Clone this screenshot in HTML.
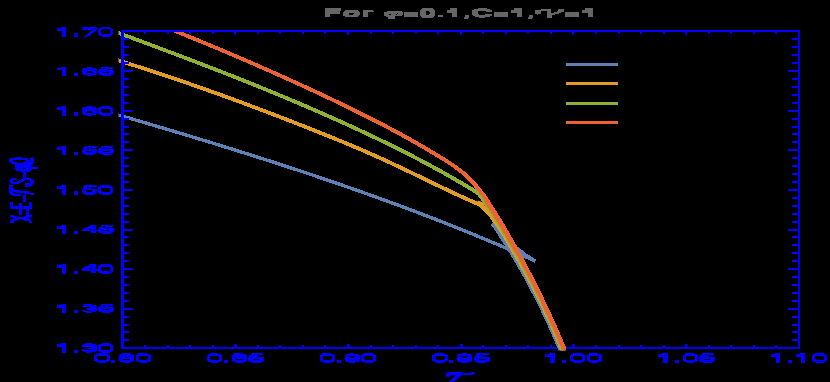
<!DOCTYPE html>
<html><head><meta charset="utf-8"><style>
html,body{margin:0;padding:0;background:#000;width:830px;height:382px;overflow:hidden}
svg{display:block}
text{font-family:"Liberation Sans",sans-serif}
</style></head><body>
<svg width="830" height="382" viewBox="0 0 830 382"><rect width="830" height="382" fill="#000"/><defs><clipPath id="c"><rect x="118.5" y="30" width="688" height="320.3"/></clipPath><clipPath id="cb"><rect x="540" y="346" width="40" height="4.3"/></clipPath></defs><defs><g id="cv"><g transform="scale(1,0.8)"><path d="M117.03,143.20 L119.17,143.98 L121.30,144.76 L123.44,145.54 L125.58,146.32 L127.72,147.11 L129.86,147.89 L132.00,148.67 L134.13,149.46 L136.27,150.24 L138.41,151.03 L140.55,151.82 L142.69,152.60 L144.82,153.39 L146.96,154.18 L149.10,154.97 L151.24,155.76 L153.37,156.55 L155.51,157.34 L157.65,158.14 L159.79,158.93 L161.92,159.72 L164.06,160.52 L166.20,161.31 L168.33,162.11 L170.47,162.91 L172.60,163.71 L174.74,164.51 L176.88,165.31 L179.01,166.11 L181.15,166.91 L183.28,167.72 L185.42,168.52 L187.55,169.33 L189.69,170.13 L191.82,170.94 L193.96,171.75 L196.09,172.56 L198.23,173.37 L200.36,174.18 L202.49,174.99 L204.63,175.80 L206.76,176.62 L208.89,177.43 L211.02,178.25 L213.16,179.07 L215.29,179.89 L217.42,180.71 L219.55,181.53 L221.68,182.35 L223.81,183.18 L225.95,184.00 L228.08,184.83 L230.21,185.66 L232.34,186.48 L234.47,187.31 L236.60,188.15 L238.72,188.98 L240.85,189.81 L242.98,190.65 L245.11,191.48 L247.24,192.32 L249.36,193.16 L251.49,194.00 L253.62,194.84 L255.75,195.69 L257.87,196.53 L260.00,197.38 L262.12,198.23 L264.25,199.07 L266.37,199.92 L268.50,200.78 L270.62,201.63 L272.74,202.48 L274.87,203.34 L276.99,204.20 L279.11,205.06 L281.23,205.92 L283.36,206.78 L285.48,207.65 L287.60,208.51 L289.72,209.38 L291.84,210.25 L293.96,211.12 L296.08,211.99 L298.19,212.86 L300.31,213.74 L302.43,214.62 L304.55,215.49 L306.66,216.37 L308.78,217.26 L310.90,218.14 L313.01,219.03 L315.13,219.91 L317.24,220.80 L319.35,221.69 L321.47,222.58 L323.58,223.48 L325.69,224.38 L327.80,225.27 L329.91,226.17 L332.03,227.07 L334.14,227.98 L336.25,228.88 L338.35,229.79 L340.46,230.70 L342.57,231.61 L344.68,232.52 L346.79,233.44 L348.89,234.35 L351.00,235.27 L353.10,236.19 L355.21,237.12 L357.31,238.04 L359.42,238.97 L361.52,239.90 L363.62,240.83 L365.72,241.76 L367.82,242.69 L369.92,243.63 L372.02,244.57 L374.12,245.51 L376.22,246.45 L378.32,247.40 L380.42,248.35 L382.51,249.30 L384.61,250.25 L386.70,251.20 L388.80,252.16 L390.89,253.12 L392.99,254.08 L395.08,255.04 L397.17,256.00 L399.26,256.97 L401.35,257.94 L403.44,258.91 L405.53,259.89 L407.62,260.86 L409.71,261.84 L411.80,262.82 L413.88,263.80 L415.97,264.79 L418.05,265.78 L420.14,266.77 L422.22,267.76 L424.30,268.76 L426.39,269.75 L428.47,270.75 L430.55,271.76 L432.63,272.76 L434.71,273.77 L436.79,274.78 L438.86,275.79 L440.94,276.80 L443.02,277.82 L445.09,278.84 L447.17,279.86 L449.24,280.89 L451.31,281.91 L453.38,282.94 L455.45,283.98 L457.52,285.01 L459.59,286.05 L461.66,287.09 L463.73,288.13 L465.80,289.18 L467.86,290.23 L469.93,291.28 L471.99,292.33 L474.06,293.39 L476.12,294.45 L478.18,295.51 L480.24,296.57 L482.30,297.64 L484.36,298.71 L486.42,299.78 L488.48,300.86 L490.53,301.94 L492.59,303.02 L494.64,304.10 L496.70,305.19 L498.75,306.28 L500.80,307.37 L502.85,308.47 L504.90,309.56 L506.95,310.67 L509.00,311.77 L511.05,312.88 L513.09,313.99 L515.14,315.10 L517.18,316.22 L519.23,317.33 L521.27,318.46 L523.31,319.58 L525.35,320.71 L527.39,321.84 L529.43,322.97 L531.47,324.11 L533.50,325.25 L535.54,326.39" fill="none" stroke="#5E81B5" stroke-width="4.1" stroke-linejoin="round" stroke-miterlimit="10" shape-rendering="crispEdges"/><path d="M492.97,279.00 L493.60,280.25 L494.23,281.50 L494.86,282.75 L495.48,284.00 L496.10,285.25 L496.71,286.50 L497.33,287.75 L497.94,289.00 L498.56,290.25 L499.17,291.50 L499.78,292.75 L500.40,294.00 L501.04,295.25 L501.69,296.50 L502.33,297.75 L502.97,299.00 L503.61,300.25 L504.24,301.50 L504.88,302.75 L505.52,304.00 L506.15,305.25 L506.78,306.50 L507.41,307.75 L508.05,309.00 L508.67,310.25 L509.30,311.50 L509.93,312.75 L510.55,314.00 L511.18,315.25 L511.80,316.50 L512.42,317.75 L513.04,319.00 L513.63,320.25 L514.22,321.50 L514.81,322.75 L515.39,324.00 L515.98,325.25 L516.56,326.50 L517.14,327.75 L517.73,329.00 L518.31,330.25 L518.88,331.50 L519.46,332.75 L520.04,334.00 L520.61,335.25 L521.18,336.50 L521.75,337.75 L522.32,339.00 L522.89,340.25 L523.46,341.50 L524.02,342.75 L524.59,344.00 L525.15,345.25 L525.71,346.50 L526.27,347.75 L526.83,349.00 L527.38,350.25 L527.91,351.50 L528.44,352.75 L528.97,354.00 L529.50,355.25 L530.02,356.50 L530.55,357.75 L531.07,359.00 L531.59,360.25 L532.11,361.50 L532.63,362.75 L533.14,364.00 L533.66,365.25 L534.17,366.50 L534.69,367.75 L535.20,369.00 L535.71,370.25 L536.22,371.50 L536.72,372.75 L537.23,374.00 L537.73,375.25 L538.24,376.50 L538.74,377.75 L539.24,379.00 L539.74,380.25 L540.23,381.50 L540.73,382.75 L541.22,384.00 L541.72,385.25 L542.21,386.50 L542.69,387.75 L543.17,389.00 L543.64,390.25 L544.12,391.50 L544.59,392.75 L545.06,394.00 L545.52,395.25 L545.99,396.50 L546.45,397.75 L546.92,399.00 L547.38,400.25 L547.84,401.50 L548.30,402.75 L548.76,404.00 L549.22,405.25 L549.67,406.50 L550.13,407.75 L550.58,409.00 L551.03,410.25 L551.48,411.50 L551.93,412.75 L552.38,414.00 L552.82,415.25 L553.27,416.50 L553.71,417.75 L554.15,419.00 L554.59,420.25 L555.03,421.50 L555.47,422.75 L555.90,424.00 L556.34,425.25 L556.77,426.50 L557.20,427.75 L557.63,429.00 L558.06,430.25 L558.49,431.50 L558.92,432.75 L559.34,434.00 L559.77,435.25 L560.19,436.50 L560.53,437.75 L560.54,439.00" fill="none" stroke="#5E81B5" stroke-width="4.3" stroke-linejoin="round" stroke-miterlimit="10" shape-rendering="crispEdges"/><path d="M492.50,280.62 L505.00,295.62 L517.00,310.38 L525.00,318.00 L534.80,325.75" fill="none" stroke="#5E81B5" stroke-width="3.6" stroke-linejoin="round" stroke-miterlimit="10" shape-rendering="crispEdges"/><path d="M116.00,74.46 L117.83,75.19 L119.66,75.93 L121.49,76.66 L123.33,77.40 L125.16,78.14 L126.99,78.87 L128.82,79.61 L130.65,80.35 L132.48,81.09 L134.32,81.83 L136.15,82.57 L137.98,83.31 L139.81,84.05 L141.64,84.80 L143.47,85.54 L145.31,86.29 L147.14,87.03 L148.97,87.78 L150.80,88.53 L152.63,89.28 L154.46,90.04 L156.30,90.79 L158.13,91.55 L159.96,92.30 L161.79,93.06 L163.62,93.82 L165.45,94.59 L167.29,95.35 L169.12,96.12 L170.95,96.89 L172.78,97.66 L174.61,98.43 L176.44,99.21 L178.28,99.99 L180.11,100.77 L181.94,101.55 L183.77,102.34 L185.60,103.12 L187.43,103.91 L189.27,104.70 L191.10,105.49 L192.93,106.29 L194.76,107.08 L196.59,107.88 L198.42,108.68 L200.26,109.49 L202.09,110.29 L203.92,111.10 L205.75,111.91 L207.58,112.72 L209.41,113.53 L211.25,114.34 L213.08,115.16 L214.91,115.98 L216.74,116.80 L218.57,117.62 L220.40,118.45 L222.24,119.27 L224.07,120.10 L225.90,120.93 L227.73,121.76 L229.56,122.60 L231.39,123.43 L233.23,124.27 L235.06,125.11 L236.89,125.95 L238.72,126.79 L240.55,127.64 L242.38,128.48 L244.22,129.33 L246.05,130.18 L247.88,131.03 L249.71,131.89 L251.54,132.74 L253.37,133.60 L255.21,134.46 L257.04,135.32 L258.87,136.18 L260.70,137.05 L262.53,137.91 L264.36,138.78 L266.20,139.65 L268.03,140.52 L269.86,141.39 L271.69,142.27 L273.52,143.14 L275.35,144.02 L277.19,144.90 L279.02,145.78 L280.85,146.66 L282.68,147.55 L284.51,148.43 L286.34,149.32 L288.18,150.21 L290.01,151.10 L291.84,151.99 L293.67,152.88 L295.50,153.78 L297.33,154.68 L299.17,155.57 L301.00,156.47 L302.83,157.37 L304.66,158.28 L306.49,159.18 L308.32,160.09 L310.16,160.99 L311.99,161.90 L313.82,162.81 L315.65,163.72 L317.48,164.64 L319.31,165.55 L321.15,166.47 L322.98,167.38 L324.81,168.30 L326.64,169.22 L328.47,170.15 L330.30,171.07 L332.14,172.00 L333.97,172.93 L335.80,173.86 L337.63,174.80 L339.46,175.73 L341.29,176.67 L343.13,177.62 L344.96,178.57 L346.79,179.52 L348.62,180.47 L350.45,181.43 L352.28,182.39 L354.12,183.36 L355.95,184.33 L357.78,185.30 L359.61,186.28 L361.44,187.26 L363.27,188.25 L365.11,189.24 L366.94,190.24 L368.77,191.25 L370.60,192.26 L372.43,193.27 L374.26,194.29 L376.10,195.32 L377.93,196.35 L379.76,197.38 L381.59,198.42 L383.42,199.47 L385.25,200.51 L387.09,201.57 L388.92,202.63 L390.75,203.69 L392.58,204.76 L394.41,205.83 L396.24,206.90 L398.08,207.98 L399.91,209.06 L401.74,210.15 L403.57,211.24 L405.40,212.33 L407.23,213.43 L409.07,214.52 L410.90,215.62 L412.73,216.73 L414.56,217.83 L416.39,218.93 L418.22,220.04 L420.06,221.15 L421.89,222.25 L423.72,223.36 L425.55,224.47 L427.38,225.58 L429.21,226.68 L431.05,227.79 L432.88,228.89 L434.71,230.00 L436.54,231.10 L438.37,232.20 L440.20,233.29 L442.04,234.39 L443.87,235.48 L445.70,236.57 L447.53,237.65 L449.36,238.73 L451.19,239.81 L453.03,240.88 L454.86,241.95 L456.69,243.01 L458.52,244.07 L460.35,245.12 L462.18,246.17 L464.02,247.21 L465.85,248.25 L467.68,249.28 L469.51,250.30 L471.34,251.31 L473.17,252.32 L475.01,253.32 L476.84,254.31 L478.67,255.29 L480.50,256.27 L481.27,257.27 L482.25,258.52 L483.25,259.77 L484.25,261.02 L485.25,262.27 L486.25,263.52 L487.26,264.77 L488.26,266.02 L489.27,267.27 L490.19,268.52 L490.95,269.77 L491.71,271.02 L492.46,272.27 L493.20,273.52 L493.94,274.77 L494.66,276.02 L495.38,277.27 L496.10,278.52 L496.81,279.77 L497.49,281.02 L498.17,282.27 L498.85,283.52 L499.52,284.77 L500.20,286.02 L500.87,287.27 L501.53,288.52 L502.20,289.77 L502.87,291.02 L503.51,292.27 L504.10,293.52 L504.70,294.77 L505.29,296.02 L505.88,297.27 L506.47,298.52 L507.06,299.77 L507.65,301.02 L508.24,302.27 L508.83,303.52 L509.41,304.77 L510.00,306.02 L510.58,307.27 L511.16,308.52 L511.74,309.77 L512.32,311.02 L512.90,312.27 L513.48,313.52 L514.05,314.77 L514.62,316.02 L515.20,317.27 L515.77,318.52 L516.34,319.77 L516.91,321.02 L517.47,322.27 L518.04,323.52 L518.60,324.77 L519.16,326.02 L519.72,327.27 L520.28,328.52 L520.84,329.77 L521.40,331.02 L521.95,332.27 L522.51,333.52 L523.06,334.77 L523.61,336.02 L524.16,337.27 L524.71,338.52 L525.25,339.77 L525.80,341.02 L526.34,342.27 L526.89,343.52 L527.43,344.77 L527.97,346.02 L528.51,347.27 L529.04,348.52 L529.58,349.77 L530.10,351.02 L530.62,352.27 L531.14,353.52 L531.66,354.77 L532.18,356.02 L532.70,357.27 L533.21,358.52 L533.72,359.77 L534.24,361.02 L534.75,362.27 L535.26,363.52 L535.76,364.77 L536.27,366.02 L536.77,367.27 L537.28,368.52 L537.78,369.77 L538.28,371.02 L538.78,372.27 L539.28,373.52 L539.77,374.77 L540.27,376.02 L540.76,377.27 L541.25,378.52 L541.74,379.77 L542.23,381.02 L542.72,382.27 L543.21,383.52 L543.69,384.77 L544.18,386.02 L544.66,387.27 L545.14,388.52 L545.62,389.77 L546.10,391.02 L546.58,392.27 L547.05,393.52 L547.52,394.77 L548.00,396.02 L548.47,397.27 L548.94,398.52 L549.41,399.77 L549.86,401.02 L550.31,402.27 L550.75,403.52 L551.20,404.77 L551.64,406.02 L552.08,407.27 L552.52,408.52 L552.96,409.77 L553.40,411.02 L553.84,412.27 L554.27,413.52 L554.71,414.77 L555.14,416.02 L555.57,417.27 L556.00,418.52 L556.43,419.77 L556.85,421.02 L557.28,422.27 L557.70,423.52 L558.13,424.77 L558.55,426.02 L558.97,427.27 L559.38,428.52 L559.80,429.77 L560.22,431.02 L560.63,432.27 L561.05,433.52 L561.46,434.77 L561.87,436.02 L562.28,437.27 L562.35,438.52 L562.35,439.77" fill="none" stroke="#E19C24" stroke-width="4.6" stroke-linejoin="miter" stroke-miterlimit="10" shape-rendering="crispEdges"/></g><polygon fill="#E19C24" points="477.8,200.4 483.1,202.4 484.6,205.5 488.3,210.7 486,212 480.5,207.6 476,204.5"/><g transform="scale(1,0.8)"><path d="M116.00,40.03 L117.82,40.87 L119.65,41.71 L121.47,42.56 L123.29,43.40 L125.12,44.24 L126.94,45.09 L128.77,45.93 L130.59,46.77 L132.41,47.62 L134.24,48.46 L136.06,49.31 L137.88,50.15 L139.71,51.00 L141.53,51.85 L143.35,52.70 L145.18,53.54 L147.00,54.39 L148.83,55.24 L150.65,56.09 L152.47,56.94 L154.30,57.79 L156.12,58.64 L157.94,59.50 L159.77,60.35 L161.59,61.20 L163.41,62.06 L165.24,62.91 L167.06,63.77 L168.88,64.63 L170.71,65.48 L172.53,66.34 L174.36,67.20 L176.18,68.06 L178.00,68.92 L179.83,69.79 L181.65,70.65 L183.47,71.51 L185.30,72.38 L187.12,73.24 L188.94,74.11 L190.77,74.98 L192.59,75.85 L194.42,76.72 L196.24,77.59 L198.06,78.46 L199.89,79.34 L201.71,80.21 L203.53,81.09 L205.36,81.97 L207.18,82.85 L209.00,83.73 L210.83,84.61 L212.65,85.49 L214.48,86.38 L216.30,87.26 L218.12,88.15 L219.95,89.04 L221.77,89.93 L223.59,90.82 L225.42,91.71 L227.24,92.61 L229.06,93.50 L230.89,94.40 L232.71,95.30 L234.54,96.20 L236.36,97.10 L238.18,98.00 L240.01,98.91 L241.83,99.82 L243.65,100.72 L245.48,101.64 L247.30,102.55 L249.12,103.46 L250.95,104.38 L252.77,105.29 L254.59,106.21 L256.42,107.13 L258.24,108.06 L260.07,108.98 L261.89,109.91 L263.71,110.84 L265.54,111.77 L267.36,112.70 L269.18,113.64 L271.01,114.57 L272.83,115.51 L274.65,116.45 L276.48,117.39 L278.30,118.34 L280.13,119.29 L281.95,120.23 L283.77,121.19 L285.60,122.14 L287.42,123.09 L289.24,124.05 L291.07,125.01 L292.89,125.97 L294.71,126.94 L296.54,127.91 L298.36,128.87 L300.19,129.85 L302.01,130.82 L303.83,131.80 L305.66,132.78 L307.48,133.76 L309.30,134.74 L311.13,135.73 L312.95,136.71 L314.77,137.70 L316.60,138.70 L318.42,139.69 L320.25,140.69 L322.07,141.69 L323.89,142.70 L325.72,143.70 L327.54,144.71 L329.36,145.73 L331.19,146.74 L333.01,147.76 L334.83,148.78 L336.66,149.80 L338.48,150.83 L340.31,151.85 L342.13,152.89 L343.95,153.92 L345.78,154.96 L347.60,156.00 L349.42,157.04 L351.25,158.08 L353.07,159.13 L354.89,160.18 L356.72,161.24 L358.54,162.30 L360.36,163.36 L362.19,164.42 L364.01,165.49 L365.84,166.56 L367.66,167.63 L369.48,168.71 L371.31,169.79 L373.13,170.87 L374.95,171.95 L376.78,173.04 L378.60,174.14 L380.42,175.23 L382.25,176.33 L384.07,177.44 L385.90,178.54 L387.72,179.66 L389.54,180.77 L391.37,181.89 L393.19,183.02 L395.01,184.14 L396.84,185.28 L398.66,186.41 L400.48,187.55 L402.31,188.70 L404.13,189.85 L405.96,191.01 L407.78,192.17 L409.60,193.33 L411.43,194.50 L413.25,195.68 L415.07,196.86 L416.90,198.05 L418.72,199.24 L420.54,200.44 L422.37,201.64 L424.19,202.85 L426.02,204.06 L427.84,205.28 L429.66,206.51 L431.49,207.74 L433.31,208.98 L435.13,210.22 L436.96,211.47 L438.78,212.73 L440.60,213.99 L442.43,215.26 L444.25,216.54 L446.07,217.82 L447.90,219.11 L449.72,220.41 L451.55,221.71 L453.37,223.02 L455.19,224.34 L457.02,225.67 L458.84,227.00 L460.66,228.34 L462.49,229.69 L464.31,231.04 L466.13,232.41 L467.96,233.78 L469.78,235.15 L471.61,236.54 L473.43,237.94 L475.25,239.34 L477.08,240.75 L478.90,242.17 L479.61,243.17 L480.45,244.42 L481.24,245.67 L481.99,246.92 L482.71,248.17 L483.41,249.42 L484.06,250.67 L484.69,251.92 L485.32,253.17 L485.97,254.42 L486.63,255.67 L487.29,256.92 L487.97,258.17 L488.65,259.42 L489.33,260.67 L490.02,261.92 L490.71,263.17 L491.40,264.42 L492.10,265.67 L492.79,266.92 L493.47,268.17 L494.12,269.42 L494.76,270.67 L495.40,271.92 L496.03,273.17 L496.65,274.42 L497.26,275.67 L497.87,276.92 L498.47,278.17 L499.06,279.42 L499.65,280.67 L500.24,281.92 L500.82,283.17 L501.40,284.42 L501.97,285.67 L502.55,286.92 L503.12,288.17 L503.69,289.42 L504.27,290.67 L504.84,291.92 L505.43,293.17 L506.02,294.42 L506.61,295.67 L507.20,296.92 L507.79,298.17 L508.37,299.42 L508.96,300.67 L509.54,301.92 L510.12,303.17 L510.70,304.42 L511.28,305.67 L511.86,306.92 L512.44,308.17 L513.02,309.42 L513.59,310.67 L514.17,311.92 L514.74,313.17 L515.31,314.42 L515.88,315.67 L516.45,316.92 L517.02,318.17 L517.58,319.42 L518.15,320.67 L518.71,321.92 L519.27,323.17 L519.83,324.42 L520.39,325.67 L520.95,326.92 L521.50,328.17 L522.06,329.42 L522.61,330.67 L523.16,331.92 L523.71,333.17 L524.26,334.42 L524.81,335.67 L525.35,336.92 L525.90,338.17 L526.44,339.42 L526.98,340.67 L527.52,341.92 L528.06,343.17 L528.59,344.42 L529.13,345.67 L529.66,346.92 L530.20,348.17 L530.73,349.42 L531.25,350.67 L531.77,351.92 L532.28,353.17 L532.79,354.42 L533.30,355.67 L533.81,356.92 L534.32,358.17 L534.82,359.42 L535.33,360.67 L535.83,361.92 L536.33,363.17 L536.83,364.42 L537.33,365.67 L537.83,366.92 L538.33,368.17 L538.82,369.42 L539.32,370.67 L539.81,371.92 L540.30,373.17 L540.79,374.42 L541.28,375.67 L541.76,376.92 L542.25,378.17 L542.73,379.42 L543.21,380.67 L543.69,381.92 L544.17,383.17 L544.65,384.42 L545.13,385.67 L545.60,386.92 L546.08,388.17 L546.55,389.42 L547.02,390.67 L547.49,391.92 L547.96,393.17 L548.43,394.42 L548.89,395.67 L549.35,396.92 L549.82,398.17 L550.28,399.42 L550.73,400.67 L551.18,401.92 L551.63,403.17 L552.07,404.42 L552.52,405.67 L552.96,406.92 L553.40,408.17 L553.84,409.42 L554.28,410.67 L554.71,411.92 L555.15,413.17 L555.58,414.42 L556.02,415.67 L556.45,416.92 L556.88,418.17 L557.31,419.42 L557.73,420.67 L558.16,421.92 L558.58,423.17 L559.01,424.42 L559.43,425.67 L559.85,426.92 L560.27,428.17 L560.69,429.42 L561.10,430.67 L561.52,431.92 L561.93,433.17 L562.34,434.42 L562.75,435.67 L563.16,436.92 L563.35,438.17 L563.35,439.42" fill="none" stroke="#8FB032" stroke-width="4.6" stroke-linejoin="miter" stroke-miterlimit="10" shape-rendering="crispEdges"/><path d="M149.96,26.39 L150.82,26.81 L151.68,27.23 L152.54,27.65 L153.40,28.07 L154.26,28.49 L155.13,28.92 L155.99,29.34 L156.85,29.76 L157.71,30.18 L158.57,30.61 L159.43,31.03 L160.29,31.46 L161.15,31.88 L162.01,32.30 L162.87,32.73 L163.73,33.16 L164.59,33.58 L165.45,34.01 L166.31,34.43 L167.17,34.86 L168.03,35.29 L168.89,35.72 L169.75,36.14 L170.61,36.57 L171.47,37.00 L172.33,37.43 L173.18,37.86 L174.04,38.29 L174.90,38.72 L175.76,39.15 L176.62,39.58 L177.48,40.01 L178.34,40.44 L179.19,40.87 L180.05,41.30 L180.91,41.74 L181.77,42.17 L182.63,42.60 L183.48,43.03 L184.34,43.47 L185.20,43.90 L186.06,44.34 L186.91,44.77 L187.77,45.21 L188.63,45.64 L189.48,46.08 L190.34,46.51 L191.20,46.95 L192.05,47.39 L192.91,47.82 L193.77,48.26 L194.62,48.70 L195.48,49.13 L196.34,49.57 L197.19,50.01 L198.05,50.45 L198.90,50.89 L199.76,51.33 L200.61,51.77 L201.47,52.21 L202.32,52.65 L203.18,53.09 L204.03,53.53 L204.89,53.98 L205.74,54.42 L206.60,54.86 L207.45,55.30 L208.31,55.75 L209.16,56.19 L210.02,56.63 L210.87,57.08 L211.73,57.52 L212.58,57.97 L213.43,58.41 L214.29,58.86 L215.14,59.30 L215.99,59.75 L216.85,60.20 L217.70,60.64 L218.55,61.09 L219.41,61.54 L220.26,61.99 L221.11,62.43 L221.97,62.88 L222.82,63.33 L223.67,63.78 L224.52,64.23 L225.38,64.68 L226.23,65.13 L227.08,65.58 L227.93,66.03 L228.78,66.48 L229.63,66.94 L230.49,67.39 L231.34,67.84 L232.19,68.29 L233.04,68.75 L233.89,69.20 L234.74,69.65 L235.59,70.11 L236.44,70.56 L237.29,71.02 L238.14,71.47 L238.99,71.93 L239.85,72.38 L240.70,72.84 L241.55,73.30 L242.40,73.75 L243.24,74.21 L244.09,74.67 L244.94,75.13 L245.79,75.59 L246.64,76.05 L247.49,76.50 L248.34,76.96 L249.19,77.42 L250.04,77.88 L250.89,78.35 L251.74,78.81 L252.58,79.27 L253.43,79.73 L254.28,80.19 L255.13,80.65 L255.98,81.12 L256.82,81.58 L257.67,82.04 L258.52,82.51 L259.37,82.97 L260.21,83.44 L261.06,83.90 L261.91,84.37 L262.76,84.83 L263.60,85.30 L264.45,85.76 L265.29,86.23 L266.14,86.70 L266.99,87.16 L267.83,87.63 L268.68,88.10 L269.53,88.57 L270.37,89.04 L271.22,89.51 L272.06,89.98 L272.91,90.45 L273.75,90.92 L274.60,91.39 L275.44,91.86 L276.29,92.33 L277.13,92.80 L277.98,93.27 L278.82,93.75 L279.67,94.22 L280.51,94.69 L281.35,95.17 L282.20,95.64 L283.04,96.11 L283.89,96.59 L284.73,97.06 L285.57,97.54 L286.42,98.01 L287.26,98.49 L288.10,98.97 L288.94,99.44 L289.79,99.92 L290.63,100.40 L291.47,100.88 L292.31,101.35 L293.16,101.83 L294.00,102.31 L294.84,102.79 L295.68,103.27 L296.52,103.75 L297.37,104.23 L298.21,104.71 L299.05,105.19 L299.89,105.68 L300.73,106.16 L301.57,106.64 L302.41,107.12 L303.25,107.61 L304.09,108.09 L304.93,108.57 L305.77,109.06 L306.61,109.54 L307.45,110.03 L308.29,110.51 L309.13,111.00 L309.97,111.48 L310.81,111.97 L311.65,112.46 L312.49,112.94 L313.33,113.43 L314.17,113.92 L315.01,114.41 L315.84,114.90 L316.68,115.38 L317.52,115.87 L318.36,116.36 L319.20,116.85 L320.03,117.34 L320.87,117.83 L321.71,118.33 L322.55,118.82 L323.38,119.31 L324.22,119.80 L325.06,120.29 L325.89,120.79 L326.73,121.28 L327.57,121.78 L328.40,122.27 L329.24,122.76 L330.08,123.26 L330.91,123.76 L331.75,124.25 L332.58,124.75 L333.42,125.25 L334.25,125.74 L335.09,126.24 L335.92,126.74 L336.76,127.24 L337.59,127.74 L338.42,128.24 L339.26,128.74 L340.09,129.24 L340.93,129.74 L341.76,130.24 L342.59,130.75 L343.42,131.25 L344.26,131.75 L345.09,132.26 L345.92,132.76 L346.75,133.27 L347.59,133.77 L348.42,134.28 L349.25,134.78 L350.08,135.29 L350.91,135.80 L351.74,136.31 L352.57,136.82 L353.40,137.33 L354.23,137.84 L355.06,138.35 L355.89,138.86 L356.72,139.37 L357.55,139.89 L358.38,140.40 L359.21,140.91 L360.03,141.43 L360.86,141.94 L361.69,142.46 L362.52,142.98 L363.34,143.49 L364.17,144.01 L365.00,144.53 L365.82,145.05 L366.65,145.57 L367.47,146.09 L368.30,146.61 L369.13,147.13 L369.95,147.66 L370.77,148.18 L371.60,148.70 L372.42,149.23 L373.25,149.76 L374.07,150.28 L374.89,150.81 L375.72,151.34 L376.54,151.87 L377.36,152.39 L378.18,152.93 L379.00,153.46 L379.83,153.99 L380.65,154.52 L381.47,155.05 L382.29,155.59 L383.11,156.12 L383.93,156.66 L384.75,157.19 L385.57,157.73 L386.38,158.27 L387.20,158.81 L388.02,159.35 L388.84,159.89 L389.66,160.43 L390.47,160.97 L391.29,161.52 L392.10,162.06 L392.92,162.61 L393.74,163.15 L394.55,163.70 L395.37,164.25 L396.18,164.79 L396.99,165.34 L397.81,165.89 L398.62,166.44 L399.43,167.00 L400.25,167.55 L401.06,168.10 L401.87,168.66 L402.68,169.21 L403.49,169.77 L404.30,170.33 L405.11,170.89 L405.92,171.45 L406.73,172.01 L407.54,172.57 L408.35,173.13 L409.16,173.69 L409.97,174.26 L410.78,174.82 L411.58,175.39 L412.39,175.96 L413.19,176.53 L414.00,177.09 L414.81,177.67 L415.61,178.24 L416.42,178.81 L417.22,179.38 L418.02,179.96 L418.83,180.53 L419.63,181.11 L420.43,181.69 L421.23,182.27 L422.04,182.85 L422.84,183.43 L423.64,184.01 L424.44,184.59 L425.24,185.18 L426.04,185.76 L426.83,186.35 L427.63,186.93 L428.43,187.52 L429.23,188.11 L430.03,188.70 L430.82,189.29 L431.62,189.89 L432.41,190.48 L433.21,191.08 L434.00,191.67 L434.80,192.27 L435.59,192.87 L436.38,193.47 L437.18,194.07 L437.97,194.67 L438.76,195.28 L439.55,195.88 L440.34,196.49 L441.13,197.10 L441.92,197.70 L442.71,198.31 L443.50,198.93 L444.28,199.54 L445.07,200.16 L445.85,200.78 L446.63,201.40 L447.41,202.02 L448.19,202.65 L448.97,203.28 L449.74,203.92 L450.51,204.56 L451.28,205.20 L452.05,205.84 L452.81,206.50 L453.57,207.15 L454.33,207.81 L455.09,208.48 L455.84,209.15 L456.59,209.82 L457.33,210.50 L458.07,211.19 L458.81,211.88 L459.54,212.58 L460.27,213.29 L460.99,214.00 L461.71,214.72 L462.42,215.44 L463.13,216.18 L463.83,216.92 L464.53,217.66 L465.23,218.42 L465.91,219.18 L466.60,219.95 L467.27,220.73 L467.94,221.52 L468.61,222.32 L469.27,223.13 L469.92,223.94 L470.56,224.77 L471.20,225.60 L471.84,226.45 L472.46,227.30 L473.08,228.17 L473.69,229.04 L474.29,229.93 L474.89,230.82 L475.48,231.73 L476.06,232.64 L476.65,233.55 L477.23,234.46 L477.82,235.37 L478.41,236.27 L479.00,237.16 L479.60,238.04 L480.21,238.91 L480.81,239.78 L481.41,240.65 L482.00,241.52 L482.58,242.41 L483.14,243.30 L483.69,244.22 L484.21,245.15 L484.72,246.10 L485.21,247.06 L485.69,248.04 L486.16,249.02 L486.63,250.01 L487.10,251.00 L487.57,251.99 L488.04,252.98 L488.52,253.96 L489.01,254.94 L489.50,255.92 L489.99,256.89 L490.49,257.86 L490.99,258.83 L491.49,259.80 L491.99,260.77 L492.50,261.74 L493.01,262.70 L493.51,263.67 L494.02,264.64 L494.53,265.60 L495.04,266.57 L495.54,267.54 L496.05,268.50 L496.55,269.48 L497.05,270.45 L497.55,271.42 L498.04,272.40 L498.54,273.38 L499.02,274.36 L499.51,275.35 L499.99,276.34 L500.46,277.33 L500.94,278.32 L501.41,279.31 L501.88,280.31 L502.35,281.30 L502.82,282.30 L503.28,283.30 L503.74,284.30 L504.21,285.30 L504.67,286.31 L505.13,287.31 L505.59,288.31 L506.05,289.31 L506.51,290.32 L506.97,291.32 L507.42,292.33 L507.88,293.33 L508.34,294.34 L508.80,295.34 L509.25,296.35 L509.71,297.35 L510.16,298.36 L510.62,299.37 L511.07,300.38 L511.53,301.38 L511.98,302.39 L512.43,303.40 L512.88,304.41 L513.33,305.42 L513.79,306.43 L514.24,307.44 L514.69,308.45 L515.13,309.46 L515.58,310.47 L516.03,311.48 L516.48,312.50 L516.92,313.51 L517.37,314.52 L517.81,315.54 L518.26,316.55 L518.70,317.57 L519.14,318.58 L519.59,319.60 L520.03,320.61 L520.47,321.63 L520.91,322.65 L521.35,323.67 L521.79,324.68 L522.22,325.70 L522.66,326.72 L523.10,327.74 L523.53,328.76 L523.97,329.78 L524.40,330.81 L524.83,331.83 L525.26,332.85 L525.70,333.87 L526.13,334.90 L526.56,335.92 L526.99,336.94 L527.42,337.97 L527.84,338.99 L528.27,340.02 L528.70,341.05 L529.12,342.07 L529.55,343.10 L529.97,344.13 L530.39,345.16 L530.82,346.18 L531.24,347.21 L531.66,348.24 L532.08,349.27 L532.50,350.30 L532.92,351.34 L533.34,352.37 L533.75,353.40 L534.17,354.43 L534.59,355.47 L535.00,356.50 L535.42,357.53 L535.83,358.57 L536.24,359.60 L536.65,360.64 L537.06,361.67 L537.47,362.71 L537.88,363.75 L538.29,364.78 L538.70,365.82 L539.11,366.86 L539.51,367.90 L539.92,368.94 L540.32,369.98 L540.73,371.02 L541.13,372.06 L541.53,373.10 L541.94,374.14 L542.34,375.19 L542.74,376.23 L543.14,377.27 L543.53,378.31 L543.93,379.36 L544.33,380.40 L544.72,381.45 L545.12,382.49 L545.51,383.54 L545.91,384.59 L546.30,385.63 L546.69,386.68 L547.08,387.73 L547.47,388.78 L547.86,389.83 L548.25,390.87 L548.64,391.92 L549.03,392.97 L549.42,394.03 L549.80,395.08 L550.19,396.13 L550.57,397.18 L550.95,398.23 L551.33,399.29 L551.72,400.34 L552.10,401.39 L552.48,402.45 L552.86,403.50 L553.23,404.56 L553.61,405.61 L553.99,406.67 L554.36,407.73 L554.74,408.78 L555.11,409.84 L555.49,410.90 L555.86,411.96 L556.23,413.02 L556.60,414.08 L556.97,415.14 L557.34,416.20 L557.71,417.26 L558.08,418.32 L558.44,419.38 L558.81,420.44 L559.17,421.50 L559.54,422.57 L559.90,423.63 L560.26,424.70 L560.62,425.76 L560.98,426.83 L561.34,427.89 L561.70,428.96 L562.06,430.02 L562.42,431.09 L562.78,432.16 L563.13,433.22 L563.49,434.29 L563.84,435.36 L564.19,436.43 L564.55,437.50" fill="none" stroke="#EB6235" stroke-width="4.6" stroke-linejoin="round" stroke-miterlimit="10" shape-rendering="crispEdges"/><path d="M486.28,250.01 L486.75,251.00 L487.22,251.99 L487.69,252.98 L488.17,253.96 L488.66,254.94 L489.15,255.92 L489.64,256.89 L490.14,257.86 L490.64,258.83 L491.14,259.80 L491.64,260.77 L492.15,261.74 L492.66,262.70 L493.16,263.67 L493.67,264.64 L494.18,265.60 L494.69,266.57 L495.19,267.54 L495.70,268.50 L496.20,269.48 L496.70,270.45 L497.20,271.42 L497.69,272.40 L498.19,273.38 L498.67,274.36 L499.16,275.35 L499.64,276.34 L500.11,277.33 L500.59,278.32 L501.06,279.31 L501.53,280.31 L502.00,281.30 L502.47,282.30 L502.93,283.30 L503.39,284.30 L503.86,285.30 L504.32,286.31 L504.78,287.31 L505.24,288.31 L505.70,289.31 L506.16,290.32 L506.62,291.32 L507.07,292.33 L507.53,293.33 L507.99,294.34 L508.45,295.34 L508.90,296.35 L509.36,297.35 L509.81,298.36 L510.27,299.37 L510.72,300.38 L511.18,301.38 L511.63,302.39 L512.08,303.40 L512.53,304.41 L512.98,305.42 L513.44,306.43 L513.89,307.44 L514.34,308.45 L514.78,309.46 L515.23,310.47 L515.68,311.48 L516.13,312.50 L516.57,313.51 L517.02,314.52" fill="none" stroke="#EB6235" stroke-width="5.3" stroke-linejoin="round" stroke-miterlimit="10" shape-rendering="crispEdges"/></g></g></defs><use href="#cv" clip-path="url(#c)"/><g fill="#0000FF"><rect x="121" y="30" width="3" height="319"/><rect x="121" y="30" width="679" height="2"/><rect x="798" y="30" width="2" height="319"/><rect x="121" y="347" width="679" height="2"/><rect x="144" y="345" width="2" height="2"/><rect x="144" y="32" width="2" height="2"/><rect x="167" y="345" width="2" height="2"/><rect x="167" y="32" width="2" height="2"/><rect x="189" y="345" width="2" height="2"/><rect x="189" y="32" width="2" height="2"/><rect x="212" y="345" width="2" height="2"/><rect x="212" y="32" width="2" height="2"/><rect x="234" y="344" width="2.6" height="3"/><rect x="234" y="32" width="2.2" height="3"/><rect x="257" y="345" width="2" height="2"/><rect x="257" y="32" width="2" height="2"/><rect x="279" y="345" width="2" height="2"/><rect x="279" y="32" width="2" height="2"/><rect x="302" y="345" width="2" height="2"/><rect x="302" y="32" width="2" height="2"/><rect x="324" y="345" width="2" height="2"/><rect x="324" y="32" width="2" height="2"/><rect x="347" y="344" width="2.6" height="3"/><rect x="347" y="32" width="2.2" height="3"/><rect x="370" y="345" width="2" height="2"/><rect x="370" y="32" width="2" height="2"/><rect x="392" y="345" width="2" height="2"/><rect x="392" y="32" width="2" height="2"/><rect x="415" y="345" width="2" height="2"/><rect x="415" y="32" width="2" height="2"/><rect x="437" y="345" width="2" height="2"/><rect x="437" y="32" width="2" height="2"/><rect x="460" y="344" width="2.6" height="3"/><rect x="460" y="32" width="2.2" height="3"/><rect x="482" y="345" width="2" height="2"/><rect x="482" y="32" width="2" height="2"/><rect x="505" y="345" width="2" height="2"/><rect x="505" y="32" width="2" height="2"/><rect x="527" y="345" width="2" height="2"/><rect x="527" y="32" width="2" height="2"/><rect x="550" y="345" width="2" height="2"/><rect x="550" y="32" width="2" height="2"/><rect x="572" y="344" width="2.6" height="3"/><rect x="572" y="32" width="2.2" height="3"/><rect x="595" y="345" width="2" height="2"/><rect x="595" y="32" width="2" height="2"/><rect x="618" y="345" width="2" height="2"/><rect x="618" y="32" width="2" height="2"/><rect x="640" y="345" width="2" height="2"/><rect x="640" y="32" width="2" height="2"/><rect x="663" y="345" width="2" height="2"/><rect x="663" y="32" width="2" height="2"/><rect x="685" y="344" width="2.6" height="3"/><rect x="685" y="32" width="2.2" height="3"/><rect x="708" y="345" width="2" height="2"/><rect x="708" y="32" width="2" height="2"/><rect x="730" y="345" width="2" height="2"/><rect x="730" y="32" width="2" height="2"/><rect x="753" y="345" width="2" height="2"/><rect x="753" y="32" width="2" height="2"/><rect x="775" y="345" width="2" height="2"/><rect x="775" y="32" width="2" height="2"/><rect x="124" y="38" width="5" height="2"/><rect x="792" y="38" width="6" height="2"/><rect x="124" y="46" width="5" height="2"/><rect x="792" y="46" width="6" height="2"/><rect x="124" y="54" width="5" height="2"/><rect x="792" y="54" width="6" height="2"/><rect x="124" y="62" width="5" height="2"/><rect x="792" y="62" width="6" height="2"/><rect x="124" y="70" width="9" height="2"/><rect x="788" y="70" width="10" height="2"/><rect x="124" y="78" width="5" height="2"/><rect x="792" y="78" width="6" height="2"/><rect x="124" y="86" width="5" height="2"/><rect x="792" y="86" width="6" height="2"/><rect x="124" y="94" width="5" height="2"/><rect x="792" y="94" width="6" height="2"/><rect x="124" y="102" width="5" height="2"/><rect x="792" y="102" width="6" height="2"/><rect x="124" y="110" width="9" height="2"/><rect x="788" y="110" width="10" height="2"/><rect x="124" y="118" width="5" height="2"/><rect x="792" y="118" width="6" height="2"/><rect x="124" y="126" width="5" height="2"/><rect x="792" y="126" width="6" height="2"/><rect x="124" y="133" width="5" height="2"/><rect x="792" y="133" width="6" height="2"/><rect x="124" y="141" width="5" height="2"/><rect x="792" y="141" width="6" height="2"/><rect x="124" y="149" width="9" height="2"/><rect x="788" y="149" width="10" height="2"/><rect x="124" y="157" width="5" height="2"/><rect x="792" y="157" width="6" height="2"/><rect x="124" y="165" width="5" height="2"/><rect x="792" y="165" width="6" height="2"/><rect x="124" y="173" width="5" height="2"/><rect x="792" y="173" width="6" height="2"/><rect x="124" y="181" width="5" height="2"/><rect x="792" y="181" width="6" height="2"/><rect x="124" y="189" width="9" height="2"/><rect x="788" y="189" width="10" height="2"/><rect x="124" y="197" width="5" height="2"/><rect x="792" y="197" width="6" height="2"/><rect x="124" y="205" width="5" height="2"/><rect x="792" y="205" width="6" height="2"/><rect x="124" y="213" width="5" height="2"/><rect x="792" y="213" width="6" height="2"/><rect x="124" y="221" width="5" height="2"/><rect x="792" y="221" width="6" height="2"/><rect x="124" y="229" width="9" height="2"/><rect x="788" y="229" width="10" height="2"/><rect x="124" y="236" width="5" height="2"/><rect x="792" y="236" width="6" height="2"/><rect x="124" y="244" width="5" height="2"/><rect x="792" y="244" width="6" height="2"/><rect x="124" y="252" width="5" height="2"/><rect x="792" y="252" width="6" height="2"/><rect x="124" y="260" width="5" height="2"/><rect x="792" y="260" width="6" height="2"/><rect x="124" y="268" width="9" height="2"/><rect x="788" y="268" width="10" height="2"/><rect x="124" y="276" width="5" height="2"/><rect x="792" y="276" width="6" height="2"/><rect x="124" y="284" width="5" height="2"/><rect x="792" y="284" width="6" height="2"/><rect x="124" y="292" width="5" height="2"/><rect x="792" y="292" width="6" height="2"/><rect x="124" y="300" width="5" height="2"/><rect x="792" y="300" width="6" height="2"/><rect x="124" y="308" width="9" height="2"/><rect x="788" y="308" width="10" height="2"/><rect x="124" y="316" width="5" height="2"/><rect x="792" y="316" width="6" height="2"/><rect x="124" y="324" width="5" height="2"/><rect x="792" y="324" width="6" height="2"/><rect x="124" y="331" width="5" height="2"/><rect x="792" y="331" width="6" height="2"/><rect x="124" y="339" width="5" height="2"/><rect x="792" y="339" width="6" height="2"/></g><use href="#cv" clip-path="url(#cb)"/><g fill="#0000FF" fill-rule="evenodd" shape-rendering="crispEdges"><path transform="translate(56.70,27.00) scale(1,0.95)" d="M0,1.1 H3.8 V0 H9.6 V10 H5.2 V4.1 H0 Z"/><path transform="translate(73.70,27.00) scale(1,0.95)" d="M0,6.6 H3.9 V10 H0 Z"/><path transform="translate(81.50,27.00) scale(1,0.95)" d="M0,0 H15.5 V2.8 L14.5,4 L7,10 H2.5 L11,3 H0 Z"/><path transform="translate(98.00,27.00) scale(1,0.95)" d="M4,0 H11.5 V1 H14 V2.2 H15.3 V7.8 H14 V9 H11.5 V10 H4 V9 H1.3 V7.8 H0 V2.2 H1.3 V1 Z M3.7,2.6 V3.4 H3.1 V6.4 H3.7 V7.2 H11.7 V6.4 H12.3 V3.4 H11.7 V2.6 Z"/><path transform="translate(56.70,66.55) scale(1,0.95)" d="M0,1.1 H3.8 V0 H9.6 V10 H5.2 V4.1 H0 Z"/><path transform="translate(73.70,66.55) scale(1,0.95)" d="M0,6.6 H3.9 V10 H0 Z"/><path transform="translate(81.50,66.55) scale(1,0.95)" d="M5.1,0 H10.9 V1 H14 V2.2 H15 V8 H14 V9.1 H10.9 V10 H5.1 V9.1 H1 V8 H0 V2.2 H1 V1 H5.1 Z M5.1,5.1 V6 H4.1 V7 H11 V6 H10 V5.1 Z"/><path transform="translate(98.00,66.55) scale(1,0.95)" d="M2.5,0 H15 V2.2 H9.6 V3.6 H15.8 V8 H14.8 V9 H12.5 V10 H3.5 V9 H1 V8 H0 V4.2 H1 V2.2 H2.5 Z M5.4,1.7 H7.2 V3.0 H5.4 Z M4.8,5.5 H10.9 V6.9 H4.8 Z"/><path transform="translate(56.70,106.10) scale(1,0.95)" d="M0,1.1 H3.8 V0 H9.6 V10 H5.2 V4.1 H0 Z"/><path transform="translate(73.70,106.10) scale(1,0.95)" d="M0,6.6 H3.9 V10 H0 Z"/><path transform="translate(81.50,106.10) scale(1,0.95)" d="M5.1,0 H10.9 V1 H14 V2.2 H15 V8 H14 V9.1 H10.9 V10 H5.1 V9.1 H1 V8 H0 V2.2 H1 V1 H5.1 Z M5.1,5.1 V6 H4.1 V7 H11 V6 H10 V5.1 Z"/><path transform="translate(98.00,106.10) scale(1,0.95)" d="M4,0 H11.5 V1 H14 V2.2 H15.3 V7.8 H14 V9 H11.5 V10 H4 V9 H1.3 V7.8 H0 V2.2 H1.3 V1 Z M3.7,2.6 V3.4 H3.1 V6.4 H3.7 V7.2 H11.7 V6.4 H12.3 V3.4 H11.7 V2.6 Z"/><path transform="translate(56.70,145.65) scale(1,0.95)" d="M0,1.1 H3.8 V0 H9.6 V10 H5.2 V4.1 H0 Z"/><path transform="translate(73.70,145.65) scale(1,0.95)" d="M0,6.6 H3.9 V10 H0 Z"/><path transform="translate(81.50,145.65) scale(1,0.95)" d="M2.5,0 H15 V2.2 H9.6 V3.6 H15.8 V8 H14.8 V9 H12.5 V10 H3.5 V9 H1 V8 H0 V4.2 H1 V2.2 H2.5 Z M5.4,1.7 H7.2 V3.0 H5.4 Z M4.8,5.5 H10.9 V6.9 H4.8 Z"/><path transform="translate(98.00,145.65) scale(1,0.95)" d="M2.5,0 H15 V2.2 H9.6 V3.6 H15.8 V8 H14.8 V9 H12.5 V10 H3.5 V9 H1 V8 H0 V4.2 H1 V2.2 H2.5 Z M5.4,1.7 H7.2 V3.0 H5.4 Z M4.8,5.5 H10.9 V6.9 H4.8 Z"/><path transform="translate(56.70,185.20) scale(1,0.95)" d="M0,1.1 H3.8 V0 H9.6 V10 H5.2 V4.1 H0 Z"/><path transform="translate(73.70,185.20) scale(1,0.95)" d="M0,6.6 H3.9 V10 H0 Z"/><path transform="translate(81.50,185.20) scale(1,0.95)" d="M2.5,0 H15 V2.2 H9.6 V3.6 H15.8 V8 H14.8 V9 H12.5 V10 H3.5 V9 H1 V8 H0 V4.2 H1 V2.2 H2.5 Z M5.4,1.7 H7.2 V3.0 H5.4 Z M4.8,5.5 H10.9 V6.9 H4.8 Z"/><path transform="translate(98.00,185.20) scale(1,0.95)" d="M4,0 H11.5 V1 H14 V2.2 H15.3 V7.8 H14 V9 H11.5 V10 H4 V9 H1.3 V7.8 H0 V2.2 H1.3 V1 Z M3.7,2.6 V3.4 H3.1 V6.4 H3.7 V7.2 H11.7 V6.4 H12.3 V3.4 H11.7 V2.6 Z"/><path transform="translate(56.70,224.75) scale(1,0.95)" d="M0,1.1 H3.8 V0 H9.6 V10 H5.2 V4.1 H0 Z"/><path transform="translate(73.70,224.75) scale(1,0.95)" d="M0,6.6 H3.9 V10 H0 Z"/><path transform="translate(81.50,224.75) scale(1,0.95)" d="M9.1,0 H14 V5.2 H16 V7.1 H14 V9.1 H9.9 V7.1 H0 V5.2 L1,4.2 H2 V3.2 H4 V2.2 H6 V1 H8 Z M9,3.2 V4.2 H7 V5.2 H9.9 V3.2 Z"/><path transform="translate(98.00,224.75) scale(1,0.95)" d="M2.5,0 H15 V2.2 H9.6 V3.6 H15.8 V8 H14.8 V9 H12.5 V10 H3.5 V9 H1 V8 H0 V4.2 H1 V2.2 H2.5 Z M5.4,1.7 H7.2 V3.0 H5.4 Z M4.8,5.5 H10.9 V6.9 H4.8 Z"/><path transform="translate(56.70,264.30) scale(1,0.95)" d="M0,1.1 H3.8 V0 H9.6 V10 H5.2 V4.1 H0 Z"/><path transform="translate(73.70,264.30) scale(1,0.95)" d="M0,6.6 H3.9 V10 H0 Z"/><path transform="translate(81.50,264.30) scale(1,0.95)" d="M9.1,0 H14 V5.2 H16 V7.1 H14 V9.1 H9.9 V7.1 H0 V5.2 L1,4.2 H2 V3.2 H4 V2.2 H6 V1 H8 Z M9,3.2 V4.2 H7 V5.2 H9.9 V3.2 Z"/><path transform="translate(98.00,264.30) scale(1,0.95)" d="M4,0 H11.5 V1 H14 V2.2 H15.3 V7.8 H14 V9 H11.5 V10 H4 V9 H1.3 V7.8 H0 V2.2 H1.3 V1 Z M3.7,2.6 V3.4 H3.1 V6.4 H3.7 V7.2 H11.7 V6.4 H12.3 V3.4 H11.7 V2.6 Z"/><path transform="translate(56.70,303.85) scale(1,0.95)" d="M0,1.1 H3.8 V0 H9.6 V10 H5.2 V4.1 H0 Z"/><path transform="translate(73.70,303.85) scale(1,0.95)" d="M0,6.6 H3.9 V10 H0 Z"/><path transform="translate(81.50,303.85) scale(1,0.95)" d="M4.1,0 H10.9 V1 H14 V2.2 H15 V8 H14 V9.1 H10.9 V10 H4.1 V9.1 H1 V8 H0 V2.2 H1 V1 Z M0,3.3 V6.1 H3 V7.1 H9.8 V6.1 H5 V4.4 H8.5 V3.3 Z"/><path transform="translate(98.00,303.85) scale(1,0.95)" d="M2.5,0 H15 V2.2 H9.6 V3.6 H15.8 V8 H14.8 V9 H12.5 V10 H3.5 V9 H1 V8 H0 V4.2 H1 V2.2 H2.5 Z M5.4,1.7 H7.2 V3.0 H5.4 Z M4.8,5.5 H10.9 V6.9 H4.8 Z"/><path transform="translate(56.70,343.40) scale(1,0.95)" d="M0,1.1 H3.8 V0 H9.6 V10 H5.2 V4.1 H0 Z"/><path transform="translate(73.70,343.40) scale(1,0.95)" d="M0,6.6 H3.9 V10 H0 Z"/><path transform="translate(81.50,343.40) scale(1,0.95)" d="M4.1,0 H10.9 V1 H14 V2.2 H15 V8 H14 V9.1 H10.9 V10 H4.1 V9.1 H1 V8 H0 V2.2 H1 V1 Z M0,3.3 V6.1 H3 V7.1 H9.8 V6.1 H5 V4.4 H8.5 V3.3 Z"/><path transform="translate(98.00,343.40) scale(1,0.95)" d="M4,0 H11.5 V1 H14 V2.2 H15.3 V7.8 H14 V9 H11.5 V10 H4 V9 H1.3 V7.8 H0 V2.2 H1.3 V1 Z M3.7,2.6 V3.4 H3.1 V6.4 H3.7 V7.2 H11.7 V6.4 H12.3 V3.4 H11.7 V2.6 Z"/><path transform="translate(94.20,353.00)" d="M4,0 H11.5 V1 H14 V2.2 H15.3 V7.8 H14 V9 H11.5 V10 H4 V9 H1.3 V7.8 H0 V2.2 H1.3 V1 Z M3.7,2.6 V3.4 H3.1 V6.4 H3.7 V7.2 H11.7 V6.4 H12.3 V3.4 H11.7 V2.6 Z"/><path transform="translate(111.20,353.00)" d="M0,6.6 H3.9 V10 H0 Z"/><path transform="translate(119.00,353.00)" d="M4.1,0 H10.9 V1 H14 V2.2 H15 V8 H14 V9.1 H10.9 V10 H4.1 V9.1 H1 V8 H0 V2.2 H1 V1 Z M7,3.1 H8 V4.2 H7 Z M4.1,6.1 V7.1 H10.9 V6.1 Z"/><path transform="translate(135.50,353.00)" d="M4,0 H11.5 V1 H14 V2.2 H15.3 V7.8 H14 V9 H11.5 V10 H4 V9 H1.3 V7.8 H0 V2.2 H1.3 V1 Z M3.7,2.6 V3.4 H3.1 V6.4 H3.7 V7.2 H11.7 V6.4 H12.3 V3.4 H11.7 V2.6 Z"/><path transform="translate(206.95,353.00)" d="M4,0 H11.5 V1 H14 V2.2 H15.3 V7.8 H14 V9 H11.5 V10 H4 V9 H1.3 V7.8 H0 V2.2 H1.3 V1 Z M3.7,2.6 V3.4 H3.1 V6.4 H3.7 V7.2 H11.7 V6.4 H12.3 V3.4 H11.7 V2.6 Z"/><path transform="translate(223.95,353.00)" d="M0,6.6 H3.9 V10 H0 Z"/><path transform="translate(231.75,353.00)" d="M4.1,0 H10.9 V1 H14 V2.2 H15 V8 H14 V9.1 H10.9 V10 H4.1 V9.1 H1 V8 H0 V2.2 H1 V1 Z M7,3.1 H8 V4.2 H7 Z M4.1,6.1 V7.1 H10.9 V6.1 Z"/><path transform="translate(248.25,353.00)" d="M2.5,0 H15 V2.2 H9.6 V3.6 H15.8 V8 H14.8 V9 H12.5 V10 H3.5 V9 H1 V8 H0 V4.2 H1 V2.2 H2.5 Z M5.4,1.7 H7.2 V3.0 H5.4 Z M4.8,5.5 H10.9 V6.9 H4.8 Z"/><path transform="translate(319.70,353.00)" d="M4,0 H11.5 V1 H14 V2.2 H15.3 V7.8 H14 V9 H11.5 V10 H4 V9 H1.3 V7.8 H0 V2.2 H1.3 V1 Z M3.7,2.6 V3.4 H3.1 V6.4 H3.7 V7.2 H11.7 V6.4 H12.3 V3.4 H11.7 V2.6 Z"/><path transform="translate(336.70,353.00)" d="M0,6.6 H3.9 V10 H0 Z"/><path transform="translate(344.50,353.00)" d="M5.1,0 H9.9 V1 H14 V2.2 H15 V8 H14 V9.1 H10.9 V10 H4.1 V9.1 H1 V8 H0 V2.2 H1 V1 H5.1 Z M4.1,3.2 V4.2 H6.2 V5.2 H8.9 V4.2 H10.9 V3.2 Z"/><path transform="translate(361.00,353.00)" d="M4,0 H11.5 V1 H14 V2.2 H15.3 V7.8 H14 V9 H11.5 V10 H4 V9 H1.3 V7.8 H0 V2.2 H1.3 V1 Z M3.7,2.6 V3.4 H3.1 V6.4 H3.7 V7.2 H11.7 V6.4 H12.3 V3.4 H11.7 V2.6 Z"/><path transform="translate(432.45,353.00)" d="M4,0 H11.5 V1 H14 V2.2 H15.3 V7.8 H14 V9 H11.5 V10 H4 V9 H1.3 V7.8 H0 V2.2 H1.3 V1 Z M3.7,2.6 V3.4 H3.1 V6.4 H3.7 V7.2 H11.7 V6.4 H12.3 V3.4 H11.7 V2.6 Z"/><path transform="translate(449.45,353.00)" d="M0,6.6 H3.9 V10 H0 Z"/><path transform="translate(457.25,353.00)" d="M5.1,0 H9.9 V1 H14 V2.2 H15 V8 H14 V9.1 H10.9 V10 H4.1 V9.1 H1 V8 H0 V2.2 H1 V1 H5.1 Z M4.1,3.2 V4.2 H6.2 V5.2 H8.9 V4.2 H10.9 V3.2 Z"/><path transform="translate(473.75,353.00)" d="M2.5,0 H15 V2.2 H9.6 V3.6 H15.8 V8 H14.8 V9 H12.5 V10 H3.5 V9 H1 V8 H0 V4.2 H1 V2.2 H2.5 Z M5.4,1.7 H7.2 V3.0 H5.4 Z M4.8,5.5 H10.9 V6.9 H4.8 Z"/><path transform="translate(545.20,353.00)" d="M0,1.1 H3.8 V0 H9.6 V10 H5.2 V4.1 H0 Z"/><path transform="translate(562.20,353.00)" d="M0,6.6 H3.9 V10 H0 Z"/><path transform="translate(570.00,353.00)" d="M4,0 H11.5 V1 H14 V2.2 H15.3 V7.8 H14 V9 H11.5 V10 H4 V9 H1.3 V7.8 H0 V2.2 H1.3 V1 Z M3.7,2.6 V3.4 H3.1 V6.4 H3.7 V7.2 H11.7 V6.4 H12.3 V3.4 H11.7 V2.6 Z"/><path transform="translate(586.50,353.00)" d="M4,0 H11.5 V1 H14 V2.2 H15.3 V7.8 H14 V9 H11.5 V10 H4 V9 H1.3 V7.8 H0 V2.2 H1.3 V1 Z M3.7,2.6 V3.4 H3.1 V6.4 H3.7 V7.2 H11.7 V6.4 H12.3 V3.4 H11.7 V2.6 Z"/><path transform="translate(657.95,353.00)" d="M0,1.1 H3.8 V0 H9.6 V10 H5.2 V4.1 H0 Z"/><path transform="translate(674.95,353.00)" d="M0,6.6 H3.9 V10 H0 Z"/><path transform="translate(682.75,353.00)" d="M4,0 H11.5 V1 H14 V2.2 H15.3 V7.8 H14 V9 H11.5 V10 H4 V9 H1.3 V7.8 H0 V2.2 H1.3 V1 Z M3.7,2.6 V3.4 H3.1 V6.4 H3.7 V7.2 H11.7 V6.4 H12.3 V3.4 H11.7 V2.6 Z"/><path transform="translate(699.25,353.00)" d="M2.5,0 H15 V2.2 H9.6 V3.6 H15.8 V8 H14.8 V9 H12.5 V10 H3.5 V9 H1 V8 H0 V4.2 H1 V2.2 H2.5 Z M5.4,1.7 H7.2 V3.0 H5.4 Z M4.8,5.5 H10.9 V6.9 H4.8 Z"/><path transform="translate(770.70,353.00)" d="M0,1.1 H3.8 V0 H9.6 V10 H5.2 V4.1 H0 Z"/><path transform="translate(787.70,353.00)" d="M0,6.6 H3.9 V10 H0 Z"/><path transform="translate(795.50,353.00)" d="M0,1.1 H3.8 V0 H9.6 V10 H5.2 V4.1 H0 Z"/><path transform="translate(812.00,353.00)" d="M4,0 H11.5 V1 H14 V2.2 H15.3 V7.8 H14 V9 H11.5 V10 H4 V9 H1.3 V7.8 H0 V2.2 H1.3 V1 Z M3.7,2.6 V3.4 H3.1 V6.4 H3.7 V7.2 H11.7 V6.4 H12.3 V3.4 H11.7 V2.6 Z"/></g><path fill="#666666" fill-rule="evenodd" shape-rendering="crispEdges" d="M325,8 H340.9 V11 H339.6 V13.9 H330 V16.9 H325 Z M346,10 H356.8 L359.8,12 V15.2 L356.8,17.2 H346 L342.9,15.2 V12 Z M349.5,12.9 H353.4 L354.1,13.75 L353.4,14.6 H349.5 L348.8,13.75 Z M363.1,10 H373 L374,11.2 L373,12.3 H368.1 V16.9 H363.1 Z M387.2,11 H401.8 V12 H402.9 V15.1 L399.8,16.1 H394.6 V19 H388.1 V17.1 L385,16.1 L384,15.1 V12 H387.2 Z M388.9,13.8 H391.1 V15.1 H388.9 Z M397,13 H398 L397,14.9 H396 Z M404.1,12.2 H418 V16.7 H404.1 Z M423,7.9 H432.2 L435,10.5 V15.4 L432.2,18 H423 L420.2,15.4 V10.5 Z M425.6,11.2 H429.2 L429.9,13 L429.2,14.8 H425.6 Z M437.9,15.1 H443 V16.9 H437.9 Z M446.9,10 H449.5 V7.9 H457 V16.9 H452 V12.6 H446.9 Z M465,15.1 H469 V16.9 L468,18.7 H463.9 V16.9 H465 Z M478.2,8 H487 V9 H489.9 V10 H491.9 V11.9 H485.9 V11 H478.9 L478,12 V14 L479.6,14.9 H485.1 V14 H491.9 V15.9 H489.9 V16.9 H485 V17.9 H478.9 V16.9 H475 V15.9 H473 L472.1,14 V11 L472.7,10 H474.1 V9 H478.2 Z M494.1,12.2 H507.6 V16.8 H494.1 Z M511.4,9.6 H514 V8.4 H522 V16.8 H516.9 V12.6 H511.4 Z M529,15.1 H532.9 V16.9 L532,18.9 H527.9 V16.9 H529 Z M535,10 H541 V9 H550.7 V11.4 L551.7,13.2 L558.4,11.2 V9 H564 V11.5 L558.4,13.6 L551.7,15.5 V17.9 H547.3 V11.4 H541 V13.8 H538 V14.75 H537 V13.8 H535 Z M565,11.7 H578.9 V16.8 H565 Z M582.3,9.6 H585 V7.9 H592.8 V16.8 H588.2 V12.6 H582.3 Z"/><rect x="566" y="63" width="52" height="3" fill="#5E81B5"/><rect x="566" y="82" width="52" height="3" fill="#E19C24"/><rect x="566" y="102" width="52" height="3" fill="#8FB032"/><rect x="566" y="121" width="52" height="3" fill="#EB6235"/><path fill="#0000FF" d="M15,157h7v1h-7zM31,157h2v1h-2zM10,158h18v1h-18zM30,158h4v1h-4zM9,159h19v1h-19zM30,159h4v1h-4zM9,160h4v1h-4zM26,160h8v1h-8zM9,161h5v1h-5zM25,161h4v1h-4zM30,161h4v1h-4zM10,162h7v1h-7zM23,162h11v1h-11zM11,163h22v1h-22zM14,164h19v1h-19zM15,165h16v1h-16zM15,166h17v1h-17zM15,167h23v1h-23zM15,168h8v1h-8zM26,168h12v1h-12zM15,169h17v1h-17zM16,170h15v1h-15zM20,171h10v1h-10zM23,172h3v1h-3zM23,173h3v1h-3zM23,174h3v1h-3zM23,175h3v1h-3zM23,176h3v1h-3zM23,177h3v1h-3zM11,178h6v1h-6zM23,178h8v1h-8zM10,179h7v1h-7zM21,179h11v1h-11zM9,180h4v1h-4zM19,180h6v1h-6zM29,180h5v1h-5zM9,181h4v1h-4zM17,181h6v1h-6zM30,181h4v1h-4zM10,182h11v1h-11zM30,182h4v1h-4zM11,183h8v1h-8zM25,183h9v1h-9zM25,184h8v1h-8zM9,185h4v1h-4zM25,185h7v1h-7zM9,186h4v1h-4zM25,186h5v1h-5zM9,187h4v1h-4zM9,188h5v1h-5zM9,189h5v1h-5zM9,190h12v1h-12zM9,191h20v1h-20zM9,192h4v1h-4zM16,192h14v1h-14zM10,193h5v1h-5zM24,193h10v1h-10zM10,194h11v1h-11zM30,194h4v1h-4zM12,195h9v1h-9zM23,195h3v1h-3zM23,196h3v1h-3zM23,197h3v1h-3zM23,198h3v1h-3zM23,199h3v1h-3zM23,200h3v1h-3zM23,201h3v1h-3zM10,202h3v1h-3zM29,202h3v1h-3zM10,203h3v1h-3zM19,203h3v1h-3zM29,203h3v1h-3zM10,204h3v1h-3zM19,204h3v1h-3zM29,204h3v1h-3zM10,205h3v1h-3zM19,205h3v1h-3zM29,205h3v1h-3zM10,206h22v1h-22zM10,207h22v1h-22zM10,208h22v1h-22zM19,209h3v1h-3zM26,209h3v1h-3zM19,210h3v1h-3zM26,210h3v1h-3zM19,211h3v1h-3zM26,211h3v1h-3zM19,212h3v1h-3zM26,212h3v1h-3zM19,213h3v1h-3zM26,213h3v1h-3zM19,214h3v1h-3zM26,214h3v1h-3zM31,214h1v1h-1zM10,215h4v1h-4zM26,215h6v1h-6zM10,216h7v1h-7zM24,216h8v1h-8zM12,217h18v1h-18zM14,218h15v1h-15zM11,219h8v1h-8zM22,219h8v1h-8zM10,220h7v1h-7zM24,220h7v1h-7zM10,221h4v1h-4zM29,221h3v1h-3zM10,222h4v1h-4zM29,222h3v1h-3z"/><g fill="#0000FF"><rect x="446" y="373" width="4" height="3.8"/><rect x="447" y="372" width="15.7" height="3.2"/><rect x="462.5" y="373" width="11" height="1.9"/><rect x="470.8" y="372" width="4.2" height="2"/><polygon points="456,375 462,375 454,382 448.5,382"/></g></svg>
</body></html>
